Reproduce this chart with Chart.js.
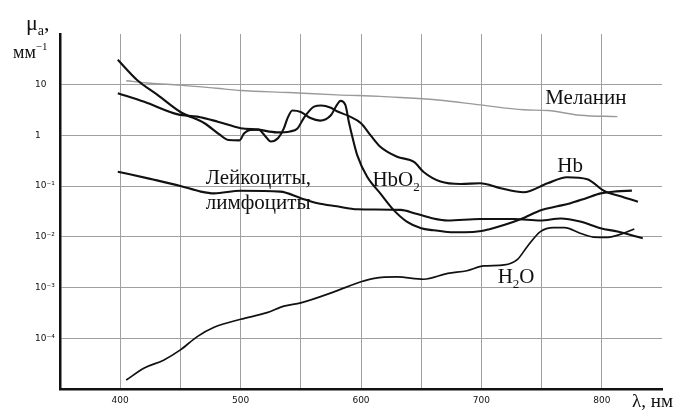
<!DOCTYPE html>
<html><head><meta charset="utf-8">
<script src="https://cdn.jsdelivr.net/npm/chart.js@4/dist/chart.umd.min.js"></script>
<style>html,body{margin:0;padding:0;background:#fff}#wrap{width:680px;height:414px;position:relative}</style>
</head><body><div id="wrap"><canvas id="c"></canvas></div>
<script>
// ---- tick definitions ----
const xGridTicks = [400,450,500,550,600,650,700,750,800];
const xTickLabels = ['400','','500','','600','','700','','800'];
const yTicks = [1e-4,1e-3,1e-2,1e-1,1,10];
const yTickLabels = ['10⁻⁴','10⁻³','10⁻²','10⁻¹','1','10'];

// ---- series (wavelength nm, absorption coefficient mm^-1) ----
const hbo2Nm = [398,414,431,450,470,483,490,499,503,508,515,520,525,531,536,539,543,550,558,566,575,580,583,587,590,593,597,605,616,627,638,650,660,672,686,700,706,720,733,750,763,774,787,799,812,825];
const hbo2Mu = [31,12.4,6.3,2.9,1.74,1.02,0.81,0.80,1.10,1.28,1.30,1.0,0.76,0.88,1.39,2.2,3.1,2.9,2.2,1.96,2.5,4.0,4.8,4.0,1.8,0.9,0.40,0.155,0.072,0.034,0.020,0.0148,0.0135,0.0125,0.0123,0.0130,0.0140,0.0175,0.0225,0.034,0.040,0.046,0.058,0.072,0.079,0.0815];

const hbNm = [398,420,448,464,481,500,515,530,541,547,553,561,567,575,580,590,600,608,616,630,644,652,666,683,699,716,735,755,771,788,802,817,830];
const hbMu = [6.8,4.6,2.6,2.35,1.87,1.39,1.3,1.15,1.2,1.35,2.3,3.7,3.9,3.5,3.0,2.4,1.74,1.0,0.60,0.38,0.30,0.19,0.123,0.110,0.114,0.091,0.076,0.114,0.150,0.137,0.080,0.062,0.049];

const lymphNm = [398,425,450,467,478,500,533,550,564,580,597,633,645,660,672,699,727,749,766,782,799,813,834];
const lymphMu = [0.193,0.139,0.101,0.078,0.072,0.081,0.078,0.058,0.046,0.040,0.035,0.034,0.029,0.023,0.021,0.0225,0.0225,0.021,0.023,0.020,0.0148,0.0127,0.0094];

const waterNm = [405,420,436,450,464,478,500,522,536,550,578,600,611,630,652,672,688,702,719,730,738,749,760,769,782,793,805,816,827];
const waterMu = [1.5e-5,2.6e-5,3.7e-5,5.9e-5,1.08e-4,1.65e-4,2.37e-4,3.2e-4,4.3e-4,5.0e-4,8.3e-4,1.3e-3,1.52e-3,1.62e-3,1.46e-3,1.9e-3,2.15e-3,2.67e-3,2.8e-3,3.6e-3,6.4e-3,0.0127,0.0152,0.0152,0.0118,0.0099,0.0098,0.0113,0.0143];

const melaninNm = [405,425,450,480,500,540,580,616,633,664,699,735,755,782,813];
const melaninMu = [12,10.7,9.8,8.5,7.7,7.0,6.3,5.9,5.6,5.0,4.0,3.2,3.1,2.5,2.35];

// ---- in-plot labels (anchored in data units: nm, mm^-1) ----
const curveLabels = [
  {parts:[{t:'Меланин'}], nm:753, mu:4.2},
  {parts:[{t:'Лейкоциты,'}], nm:471, mu:0.110},
  {parts:[{t:'лимфоциты'}], nm:471, mu:0.036},
  {parts:[{t:'HbO'},{t:'2',sub:true}], nm:609.5, mu:0.101},
  {parts:[{t:'Hb'}], nm:763, mu:0.19},
  {parts:[{t:'H'},{t:'2',sub:true},{t:'O'}], nm:713.5, mu:0.00122}
];

const toPts = (xs, ys) => xs.map((x,i)=>({x, y: ys[i]}));
const lineStyle = {borderColor:'#111', borderWidth:2.1, pointRadius:0, fill:false, cubicInterpolationMode:'monotone'};

function drawRich(ctx, x, y, parts, size, family){
  let cx = x;
  for (const p of parts){
    if (p.sub){
      ctx.font = Math.round(size*0.62)+'px '+family;
      ctx.fillText(p.t, cx, y + size*0.22);
    } else if (p.sup){
      ctx.font = Math.round(size*0.62)+'px '+family;
      ctx.fillText(p.t, cx, y - size*0.42);
    } else {
      ctx.font = size+'px '+family;
      ctx.fillText(p.t, cx, y);
    }
    cx += ctx.measureText(p.t).width;
  }
}

const textPlugin = {
  id:'texts',
  beforeDraw(chart){
    const ctx = chart.ctx;
    ctx.save(); ctx.fillStyle='#fff'; ctx.fillRect(0,0,chart.width,chart.height); ctx.restore();
  },
  afterDraw(chart){
    const ctx = chart.ctx, xs = chart.scales.x, ys = chart.scales.y, ca = chart.chartArea;
    ctx.save();
    ctx.fillStyle = '#111';
    ctx.textAlign = 'left';
    ctx.textBaseline = 'alphabetic';
    const fam = '"Liberation Serif", "Times New Roman", serif';
    for (const l of curveLabels){
      drawRich(ctx, xs.getPixelForValue(l.nm), ys.getPixelForValue(l.mu), l.parts, 21, fam);
    }
    // axis titles
    drawRich(ctx, ca.left-34, ca.top-4, [{t:'μ'},{t:'a',sub:true},{t:','}], 22, fam);
    drawRich(ctx, ca.left-47, ca.top+24, [{t:'мм'},{t:'−1',sup:true}], 18, fam);
    drawRich(ctx, ca.right-30, ca.bottom+18, [{t:'λ, нм'}], 19, fam);
    ctx.restore();
  }
};

new Chart(document.getElementById('c'), {
  type:'line',
  data:{datasets:[
    Object.assign({label:'HbO2', data:toPts(hbo2Nm,hbo2Mu)}, lineStyle),
    Object.assign({label:'Hb', data:toPts(hbNm,hbMu)}, lineStyle),
    Object.assign({label:'Лейкоциты', data:toPts(lymphNm,lymphMu)}, lineStyle),
    Object.assign({label:'H2O', data:toPts(waterNm,waterMu)}, lineStyle, {borderWidth:1.7}),
    Object.assign({label:'Меланин', data:toPts(melaninNm,melaninMu)}, lineStyle, {borderColor:'#9a9a9a', borderWidth:1.4})
  ]},
  options:{
    responsive:true, maintainAspectRatio:false, animation:false,
    layout:{padding:{left:35, right:18, top:34, bottom:0}},
    plugins:{legend:{display:false}, tooltip:{enabled:false}},
    scales:{
      x:{type:'linear', min:350, max:850,
        afterBuildTicks:(s)=>{ s.ticks = xGridTicks.map(v=>({value:v})); },
        afterFit:(s)=>{ s.height = 25; },
        ticks:{autoSkip:false, maxRotation:0, padding:6, color:'#111',
          font:{family:'"DejaVu Sans"', size:9},
          callback:(v,i)=>xTickLabels[i]},
        grid:{color:'#a0a0a0', lineWidth:1, drawTicks:false},
        border:{display:true, color:'#111', width:2.5}
      },
      y:{type:'logarithmic', min:1e-5, max:100,
        afterBuildTicks:(s)=>{ s.ticks = yTicks.map(v=>({value:v})); },
        afterFit:(s)=>{ s.width = 25; },
        ticks:{autoSkip:false, crossAlign:'far', padding:0, color:'#111',
          font:{family:'"DejaVu Sans"', size:9},
          callback:(v,i)=>yTickLabels[i]},
        grid:{color:'#a0a0a0', lineWidth:1, drawTicks:false},
        border:{display:true, color:'#111', width:2.5}
      }
    }
  },
  plugins:[textPlugin]
});
</script>
</body></html>
